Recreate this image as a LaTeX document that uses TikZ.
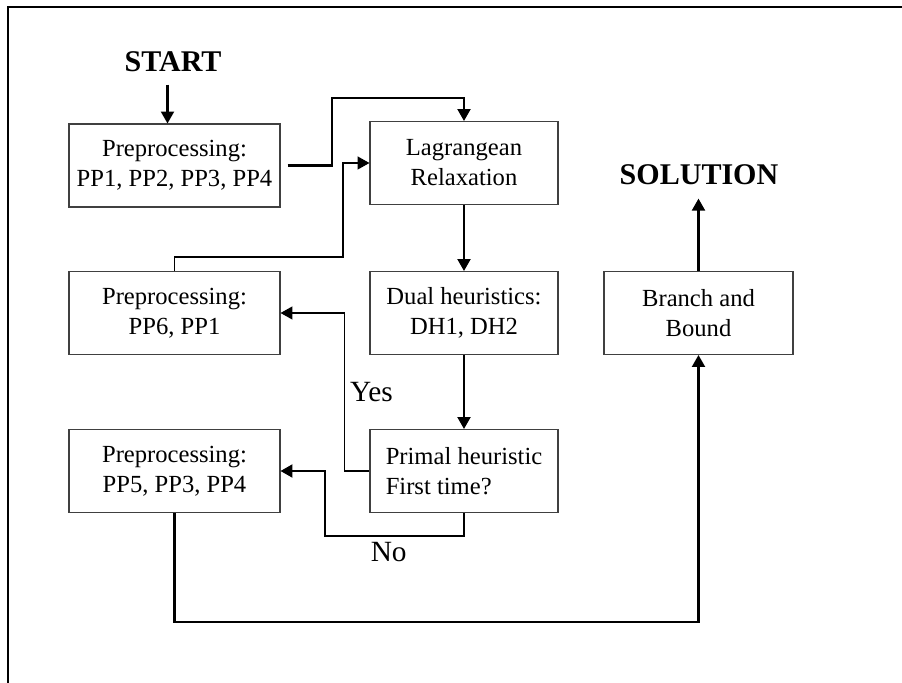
\documentclass[tikz,border=0pt]{standalone}
\usepackage{fontspec}
\setmainfont{Liberation Serif}
\usetikzlibrary{arrows.meta}

\begin{document}
\begin{tikzpicture}[auto,
    box/.style={draw=black!75, line width=0.6pt, minimum height=1.66cm, inner sep=0pt, align=center, font=\fontsize{14}{17.1}\selectfont},
    ppbox/.style={box, minimum width=4.22cm},
    stbox/.style={box, minimum width=3.76cm},
    title/.style={font=\fontsize{17.1}{20}\selectfont\bfseries, inner sep=0pt, anchor=base},
    arr/.style={-{Triangle[length=6.8pt,width=7.4pt]}, line width=1.15pt},
    thinarr/.style={arr, line width=0.8pt},
    lbl/.style={font=\fontsize{16.7}{20}\selectfont, inner sep=2.8pt}]

    \useasboundingbox (0, 0) rectangle (18.04, -13.66);
    \draw[line width=0.6pt] (0.16, -13.66) -- (0.16, -0.14) -- (18.04, -0.14);

    \node[title] (start) at (3.46, -1.44) {START};
    \node[title] (sol) at (13.98, -3.70) {SOLUTION};

    \node[ppbox] (pp1) at (3.49, -3.31) {Preprocessing:\\PP1, PP2, PP3, PP4};
    \node[ppbox] (pp6) at (3.49, -6.26) {Preprocessing:\\PP6, PP1};
    \node[ppbox] (pp5) at (3.49, -9.42) {Preprocessing:\\PP5, PP3, PP4};
    \node[stbox] (lag) at (9.28, -3.26) {Lagrangean\\Relaxation};
    \node[stbox] (dual) at (9.28, -6.26) {Dual heuristics:\\DH1, DH2};
    \node[stbox, align=left] (primal) at (9.28, -9.42) {Primal heuristic\\First time?};
    \node[stbox, minimum width=3.78cm] (bnb) at (13.97, -6.26) {Branch and\\Bound};

    \draw[arr, shorten <=0.24cm] ([xshift=-0.11cm]start.south) -- ([xshift=-0.11cm]start.south |- pp1.north);
    \draw[arr, shorten <=0.14cm] (pp1.east) -| (6.64, -1.96) -| (lag.north);
    \draw[thinarr] (pp6.north) |- (6.86, -5.14) |- (lag.west);
    \draw[arr] (lag) -- (dual);
    \draw[arr] (dual) -- (primal);
    \draw[thinarr] (primal.west) -- ++(-0.5, 0) |- node[lbl, pos=0.25, right] {Yes} (pp6.east);
    \draw[arr] (primal.south) -- ++(0, -0.46) -| node[lbl, pos=0.27, below] {No} ([xshift=0.88cm]pp5.east) -- (pp5.east);
    \draw[arr] (pp5.south) -- ++(0, -2.18) -| (bnb.south);
    \draw[arr, shorten >=0.26cm] (bnb.north) -- (bnb.north |- sol.south);

\end{tikzpicture}
\end{document}
